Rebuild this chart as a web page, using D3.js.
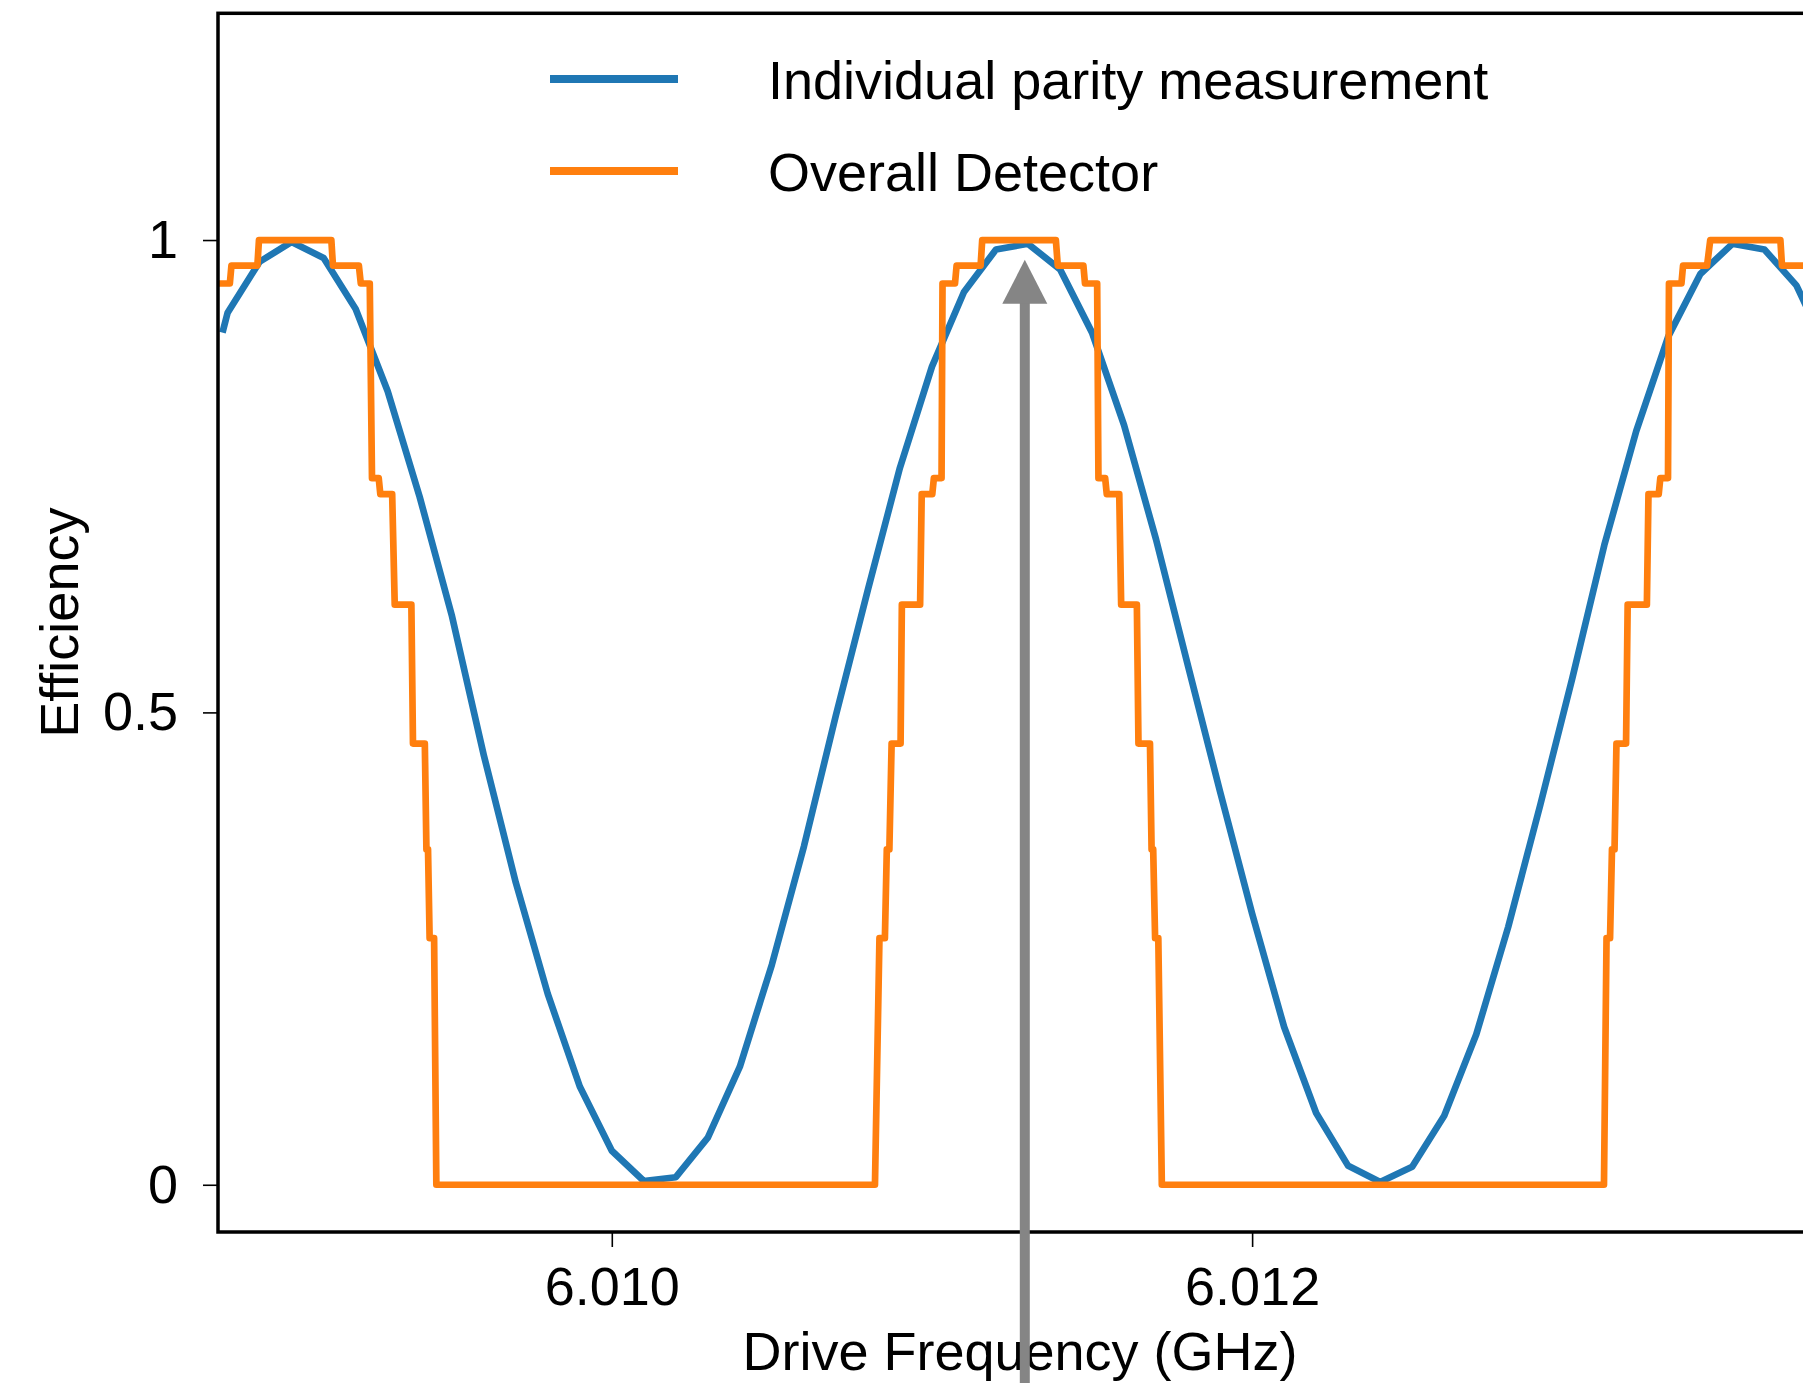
<!DOCTYPE html>
<html><head><meta charset="utf-8">
<script src="https://cdn.jsdelivr.net/npm/d3@7"></script>
<style>
html,body{margin:0;padding:0;background:#fff;}
svg{display:block;}
text{font-family:"Liberation Sans",Arial,Helvetica,sans-serif;fill:#000;}
</style>
</head><body>
<svg id="chart" width="1803" height="1383"></svg>
<script>
// ---------- data ----------
const blueFreq = [6.008784, 6.0088, 6.0089, 6.0090, 6.0091, 6.0092, 6.0093, 6.0094, 6.0095, 6.0096,
  6.0097, 6.0098, 6.0099, 6.0100, 6.0101, 6.0102, 6.0103, 6.0104, 6.0105, 6.0106,
  6.0107, 6.0108, 6.0109, 6.0110, 6.0111, 6.0112, 6.0113, 6.0114, 6.0115, 6.0116,
  6.0117, 6.0118, 6.0119, 6.0120, 6.0121, 6.0122, 6.0123, 6.0124, 6.0125, 6.0126,
  6.0127, 6.0128, 6.0129, 6.0130, 6.0131, 6.0132, 6.0133, 6.0134, 6.0135, 6.0136,
  6.0137, 6.0138];
const blueEff = [0.902, 0.923, 0.977, 0.998, 0.981, 0.927, 0.840, 0.728, 0.603, 0.455,
  0.320, 0.202, 0.104, 0.036, 0.004, 0.008, 0.050, 0.125, 0.233, 0.358,
  0.497, 0.630, 0.759, 0.866, 0.945, 0.990, 0.996, 0.969, 0.902, 0.804,
  0.683, 0.549, 0.416, 0.287, 0.167, 0.076, 0.020, 0.003, 0.019, 0.073,
  0.159, 0.273, 0.402, 0.536, 0.677, 0.798, 0.898, 0.964, 0.996, 0.990,
  0.952, 0.88];

const orangeFreq = [
  6.0087, 6.008807, 6.008812, 6.008893, 6.008898, 6.009124, 6.009129, 6.009210, 6.009216, 6.009244,
  6.009251, 6.009272, 6.009277, 6.009314, 6.009322, 6.009374, 6.009379, 6.009416, 6.009421, 6.009426,
  6.009431, 6.009445, 6.009452,
  6.010822, 6.010836, 6.010853, 6.010859, 6.010867, 6.010874, 6.010902, 6.010906, 6.010963, 6.010968,
  6.011001, 6.011006, 6.011030, 6.011033, 6.011072, 6.011077, 6.011152, 6.011157, 6.011387, 6.011393,
  6.011473, 6.011478, 6.011516, 6.011520, 6.011541, 6.011546, 6.011585, 6.011591, 6.011640, 6.011645,
  6.011681, 6.011686, 6.011691, 6.011697, 6.011707, 6.011718,
  6.013099, 6.013107, 6.013118, 6.013124, 6.013132, 6.013138, 6.013168, 6.013173, 6.013233, 6.013238,
  6.013270, 6.013275, 6.013299, 6.013302, 6.013341, 6.013346, 6.013421, 6.013431, 6.013650, 6.013655,
  6.0139];
const orangeEff = [
  0.954, 0.954, 0.973, 0.973, 1, 1, 0.973, 0.973, 0.954, 0.954,
  0.748, 0.748, 0.731, 0.731, 0.614, 0.614, 0.467, 0.467, 0.355, 0.355,
  0.261, 0.261, 0,
  0, 0.261, 0.261, 0.355, 0.355, 0.467, 0.467, 0.614, 0.614, 0.731,
  0.731, 0.748, 0.748, 0.954, 0.954, 0.973, 0.973, 1, 1, 0.973,
  0.973, 0.954, 0.954, 0.748, 0.748, 0.731, 0.731, 0.614, 0.614, 0.467,
  0.467, 0.355, 0.355, 0.261, 0.261, 0,
  0, 0.261, 0.261, 0.355, 0.355, 0.467, 0.467, 0.614, 0.614, 0.731,
  0.731, 0.748, 0.748, 0.954, 0.954, 0.973, 0.973, 1, 1, 0.973,
  0.973];

const xTicks = [6.010, 6.012];
const xTickLabels = ["6.010", "6.012"];
const yTicks = [0, 0.5, 1];
const yTickLabels = ["0", "0.5", "1"];
const seriesNames = ["Individual parity measurement", "Overall Detector"];
const seriesColors = ["#1f77b4", "#ff7f0e"];
const xLabel = "Drive Frequency (GHz)";
const yLabel = "Efficiency";
const arrowFreq = 6.01129, arrowTipEff = 0.979, arrowTailEff = -0.3;

// ---------- layout ----------
const svg = d3.select("#chart");
const L = 218, R = 1822, T = 13.3, B = 1232;
const FS = 54;
const x = d3.scaleLinear().domain([6.00877, 6.01378]).range([L, R]);
const y = d3.scaleLinear().domain([-0.05, 1.24]).range([B, T]);

svg.append("rect").attr("width", 1803).attr("height", 1383).attr("fill", "#fff");

svg.append("defs").append("clipPath").attr("id", "clip")
  .append("rect").attr("x", L).attr("y", T).attr("width", R - L).attr("height", B - T);

const plot = svg.append("g").attr("clip-path", "url(#clip)");

const lineGen = d3.line().x(d => x(d[0])).y(d => y(d[1]));
const blueData = blueFreq.map((f, i) => [f, blueEff[i]]);
const orangeData = orangeFreq.map((f, i) => [f, orangeEff[i]]);

plot.append("path").datum(blueData).attr("d", lineGen)
  .attr("fill", "none").attr("stroke", seriesColors[0]).attr("stroke-width", 6.7)
  .attr("stroke-linejoin", "round").attr("stroke-linecap", "butt");
plot.append("path").datum(orangeData).attr("d", lineGen)
  .attr("fill", "none").attr("stroke", seriesColors[1]).attr("stroke-width", 6.7)
  .attr("stroke-linejoin", "round").attr("stroke-linecap", "square");

// axes
const xAxis = d3.axisBottom(x).tickValues(xTicks).tickFormat((d, i) => xTickLabels[i])
  .tickSize(15).tickPadding(20).tickSizeOuter(0);
const gx = svg.append("g").attr("transform", `translate(0,${B})`).call(xAxis);
gx.select(".domain").remove();
gx.selectAll(".tick line").attr("stroke", "#000").attr("stroke-width", 1.6);
gx.selectAll(".tick text").attr("font-size", FS).attr("font-family", null).attr("fill", "#000");

const yAxis = d3.axisLeft(y).tickValues(yTicks).tickFormat((d, i) => yTickLabels[i])
  .tickSize(15).tickPadding(25).tickSizeOuter(0);
const gy = svg.append("g").attr("transform", `translate(${L},0)`).call(yAxis);
gy.select(".domain").remove();
gy.selectAll(".tick line").attr("stroke", "#000").attr("stroke-width", 1.6);
gy.selectAll(".tick text").attr("font-size", FS).attr("font-family", null).attr("fill", "#000");

// frame
svg.append("rect").attr("x", L).attr("y", T).attr("width", R - L).attr("height", B - T)
  .attr("fill", "none").attr("stroke", "#000").attr("stroke-width", 3.5);

// axis labels
svg.append("text").attr("x", (L + R) / 2).attr("y", 1370).attr("text-anchor", "middle")
  .attr("font-size", FS).text(xLabel);
svg.append("text").attr("transform", `translate(78,${(T + B) / 2}) rotate(-90)`)
  .attr("text-anchor", "middle").attr("font-size", FS).text(yLabel);

// legend
const legY = [79, 171];
seriesNames.forEach((name, i) => {
  svg.append("line").attr("x1", 550).attr("x2", 678).attr("y1", legY[i]).attr("y2", legY[i])
    .attr("stroke", seriesColors[i]).attr("stroke-width", 8);
  svg.append("text").attr("x", 768).attr("y", legY[i] + 20).attr("font-size", FS).text(name);
});

// arrow annotation
const ax = x(arrowFreq), tipY = y(arrowTipEff), tailY = y(arrowTailEff);
const headLen = 44, headHalf = 22.5, shaftW = 10;
svg.append("rect").attr("x", ax - shaftW / 2).attr("y", tipY + headLen - 1)
  .attr("width", shaftW).attr("height", tailY - tipY - headLen).attr("fill", "#858585");
svg.append("path")
  .attr("d", `M${ax},${tipY} L${ax + headHalf},${tipY + headLen} L${ax - headHalf},${tipY + headLen} Z`)
  .attr("fill", "#858585");
</script>
</body></html>
